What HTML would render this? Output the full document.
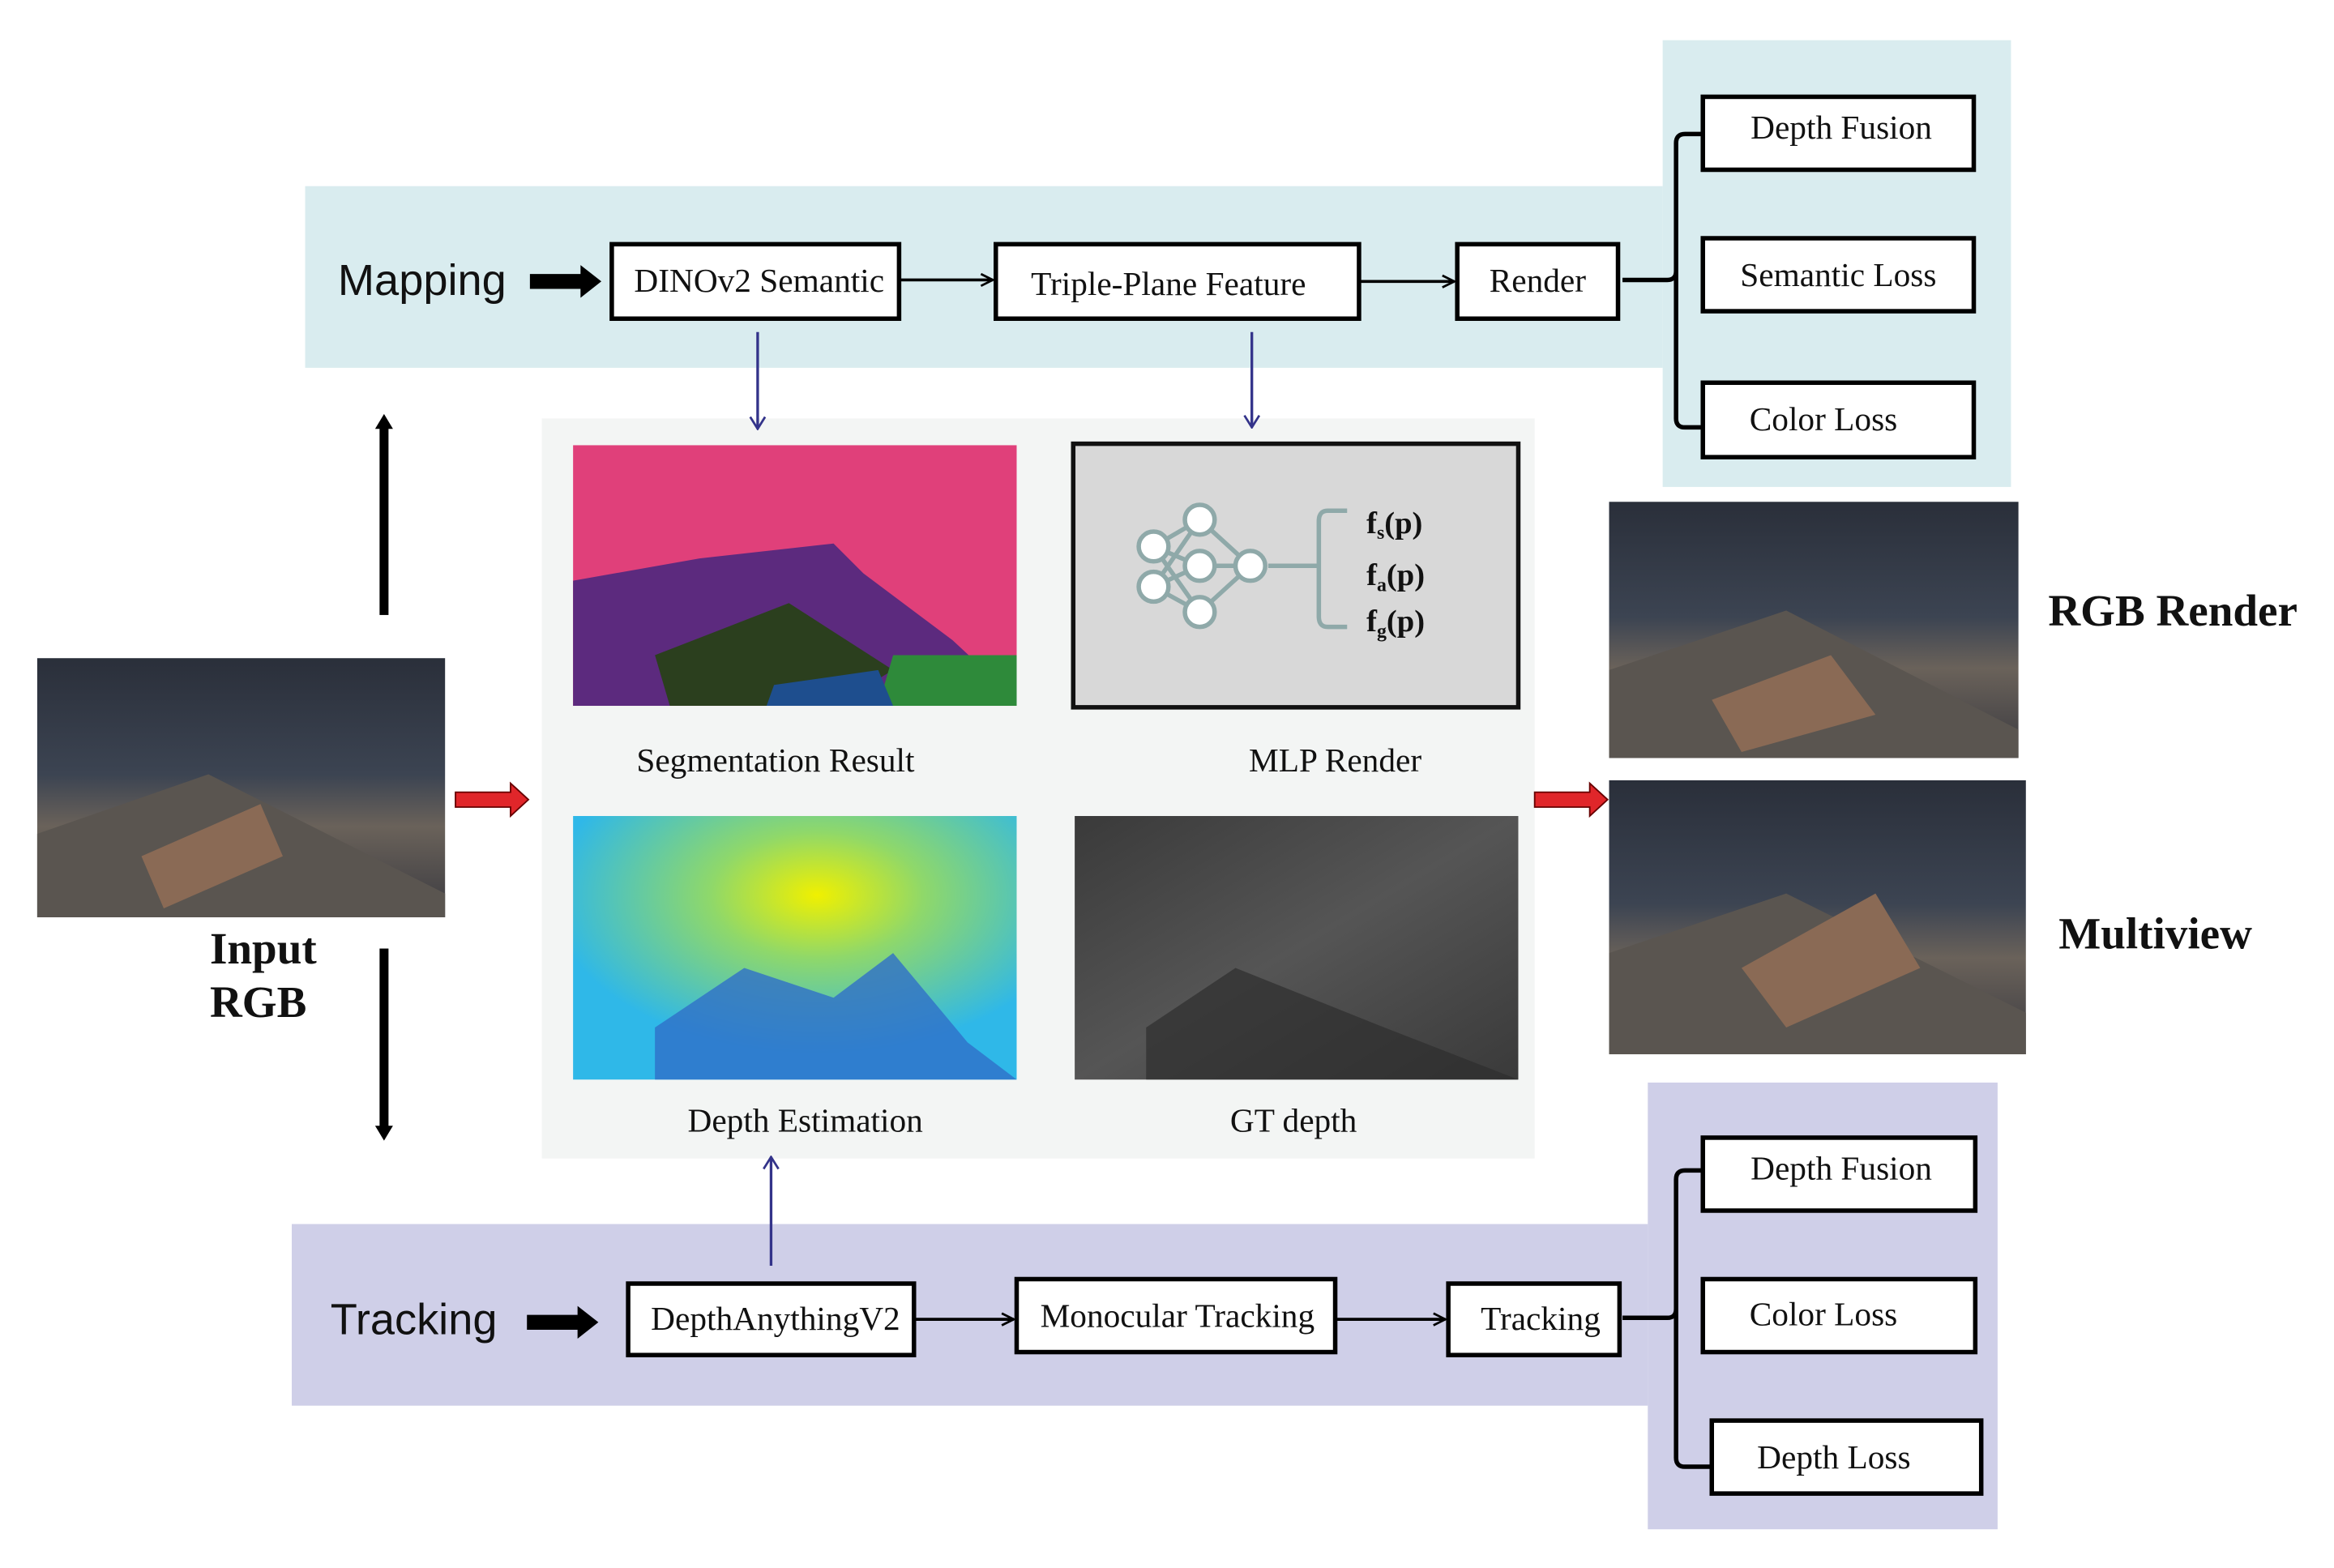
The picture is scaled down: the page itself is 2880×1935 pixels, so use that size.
<!DOCTYPE html>
<html><head><meta charset="utf-8"><style>html,body{margin:0;padding:0;background:#fff}svg{display:block}</style></head><body>
<svg width="2880" height="1935" viewBox="0 0 1568 1053" preserveAspectRatio="none" xmlns="http://www.w3.org/2000/svg" font-family="Liberation Serif, serif">
<defs>
<marker id="ah" markerWidth="10" markerHeight="10" refX="9" refY="5" orient="auto" markerUnits="userSpaceOnUse"><path d="M1,1 L9,5 L1,9" fill="none" stroke="#000" stroke-width="1.5"/></marker>
<marker id="bh" markerWidth="12" markerHeight="12" refX="11" refY="6" orient="auto" markerUnits="userSpaceOnUse"><path d="M3,1 L11,6 L3,11" fill="none" stroke="#33338a" stroke-width="1.5"/></marker>
<linearGradient id="scene" x1="0" y1="0" x2="0" y2="1"><stop offset="0" stop-color="#2a2f3a"/><stop offset="0.45" stop-color="#3c4452"/><stop offset="0.65" stop-color="#6a625a"/><stop offset="1" stop-color="#3a3a40"/></linearGradient>
<linearGradient id="gt" x1="0" y1="0" x2="1" y2="1"><stop offset="0" stop-color="#3a3a3a"/><stop offset="0.5" stop-color="#555"/><stop offset="1" stop-color="#3a3a3a"/></linearGradient>
<radialGradient id="de" cx="0.55" cy="0.3" r="0.6"><stop offset="0" stop-color="#f0f000"/><stop offset="0.4" stop-color="#8fd86a"/><stop offset="1" stop-color="#2fb8e8"/></radialGradient>
</defs>
<rect x="205" y="125" width="912" height="122" fill="#d9ecef"/>
<rect x="1117" y="27" width="234" height="300" fill="#d9ecef"/>
<rect x="196" y="822" width="911" height="122" fill="#cfcfe8"/>
<rect x="1107" y="727" width="235" height="300" fill="#cfcfe8"/>
<rect x="364" y="281" width="667" height="497" fill="#f3f5f4"/>
<text x="227" y="198" font-family="Liberation Sans, sans-serif" font-size="29.5" fill="#111">Mapping</text>
<polygon points="356,184 390,184 390,178 404,189 390,200 390,194 356,194" fill="#000"/>
<g fill="#fff" stroke="#000" stroke-width="3">
<rect x="411" y="164" width="193" height="50"/><rect x="669" y="164" width="244" height="50"/><rect x="979" y="164" width="108" height="50"/>
<rect x="1144" y="65" width="182" height="49"/><rect x="1144" y="160" width="182" height="49"/><rect x="1144" y="257" width="182" height="50"/>
<rect x="422" y="862" width="192" height="48"/><rect x="683" y="859" width="214" height="49"/><rect x="973" y="862" width="115" height="48"/>
<rect x="1144" y="764" width="183" height="49"/><rect x="1144" y="859" width="183" height="49"/><rect x="1150" y="954" width="181" height="49"/>
</g>
<g font-size="22.5" fill="#111" text-anchor="middle">
<text x="510" y="196">DINOv2 Semantic</text><text x="785" y="198">Triple-Plane Feature</text><text x="1033" y="196">Render</text>
<text x="1237" y="93">Depth Fusion</text><text x="1235" y="192">Semantic Loss</text><text x="1225" y="289">Color Loss</text>
<text x="521" y="893">DepthAnythingV2</text><text x="791" y="891">Monocular Tracking</text><text x="1035" y="893">Tracking</text>
<text x="1237" y="792">Depth Fusion</text><text x="1225" y="890">Color Loss</text><text x="1232" y="986">Depth Loss</text>
</g>
<g stroke="#000" stroke-width="2" fill="none">
<line x1="604" y1="188" x2="667" y2="188" marker-end="url(#ah)"/>
<line x1="913" y1="189" x2="977" y2="189" marker-end="url(#ah)"/>
<line x1="614" y1="886" x2="681" y2="886" marker-end="url(#ah)"/>
<line x1="897" y1="886" x2="971" y2="886" marker-end="url(#ah)"/>
</g>
<g stroke="#000" stroke-width="3" fill="none">
<path d="M1090,188 L1120,188 Q1126,188 1126,182 L1126,96 Q1126,90 1132,90 L1144,90 M1126,182 L1126,281 Q1126,287 1132,287 L1144,287"/>
<path d="M1090,885 L1120,885 Q1126,885 1126,879 L1126,792 Q1126,786 1132,786 L1144,786 M1126,879 L1126,979 Q1126,985 1132,985 L1150,985"/>
</g>
<text x="222" y="896" font-family="Liberation Sans, sans-serif" font-size="29.5" fill="#111">Tracking</text>
<polygon points="354,883 388,883 388,877 402,888 388,899 388,893 354,893" fill="#000"/>
<g stroke="#33338a" stroke-width="1.8" fill="none">
<line x1="509" y1="223" x2="509" y2="288" marker-end="url(#bh)"/>
<line x1="841" y1="223" x2="841" y2="287" marker-end="url(#bh)"/>
<line x1="518" y1="850" x2="518" y2="777" marker-end="url(#bh)"/>
</g>
<rect x="255" y="287" width="6" height="126" fill="#000"/><polygon points="252,288 258,278 264,288" fill="#000"/>
<rect x="255" y="637" width="6" height="121" fill="#000"/><polygon points="252,756 258,766 264,756" fill="#000"/>
<polygon points="306,532 343,532 343,526 355,537 343,548 343,542 306,542" fill="#e0262a" stroke="#600" stroke-width="1"/>
<polygon points="1031,532 1068,532 1068,526 1080,537 1068,548 1068,542 1031,542" fill="#e0262a" stroke="#600" stroke-width="1"/>
<rect x="25" y="442" width="274" height="174" fill="url(#scene)"/>
<polygon points="25,560 140,520 299,600 299,616 25,616" fill="#5a5550"/>
<polygon points="95,575 175,540 190,575 110,610" fill="#8a6a55"/>
<rect x="1081" y="337" width="275" height="172" fill="url(#scene)"/>
<polygon points="1081,450 1200,410 1356,490 1356,509 1081,509" fill="#5a5550"/>
<polygon points="1150,470 1230,440 1260,480 1170,505" fill="#8a6a55"/>
<rect x="1081" y="524" width="280" height="184" fill="url(#scene)"/>
<polygon points="1081,640 1200,600 1361,680 1361,708 1081,708" fill="#5a5550"/>
<polygon points="1170,650 1260,600 1290,650 1200,690" fill="#8a6a55"/>
<rect x="385" y="299" width="298" height="175" fill="#e0407a"/>
<polygon points="385,390 470,375 560,365 580,385 640,430 683,470 683,474 385,474" fill="#5c2a7e"/>
<polygon points="440,440 530,405 600,450 560,474 450,474" fill="#2b3f1e"/>
<polygon points="600,440 683,440 683,474 590,474" fill="#2e8a3a"/>
<polygon points="520,460 590,450 600,474 515,474" fill="#1e4e8e"/>
<rect x="385" y="548" width="298" height="177" fill="url(#de)"/>
<polygon points="440,690 500,650 560,670 600,640 650,700 683,725 440,725" fill="#2f6fc8" opacity="0.8"/>
<rect x="722" y="548" width="298" height="177" fill="url(#gt)"/>
<polygon points="770,690 830,650 930,690 1020,725 770,725" fill="#2e2e2e" opacity="0.7"/>
<rect x="721" y="298" width="299" height="177" fill="#d8d8d8" stroke="#111" stroke-width="3"/>
<g stroke="#8fa9a9" stroke-width="3" fill="#fff">
<line x1="775" y1="367" x2="806" y2="349"/><line x1="775" y1="367" x2="806" y2="380"/><line x1="775" y1="367" x2="806" y2="411"/>
<line x1="775" y1="394" x2="806" y2="349"/><line x1="775" y1="394" x2="806" y2="380"/><line x1="775" y1="394" x2="806" y2="411"/>
<line x1="806" y1="349" x2="840" y2="380"/><line x1="806" y1="380" x2="840" y2="380"/><line x1="806" y1="411" x2="840" y2="380"/>
<path d="M852,380 L886,380 M905,343 L892,343 Q886,343 886,350 L886,414 Q886,421 892,421 L905,421" fill="none"/>
<circle cx="775" cy="367" r="10"/><circle cx="775" cy="394" r="10"/><circle cx="806" cy="349" r="10"/><circle cx="806" cy="380" r="10"/><circle cx="806" cy="411" r="10"/><circle cx="840" cy="380" r="10"/>
</g>
<g font-size="21" font-weight="bold" fill="#111">
<text x="918" y="358">f<tspan font-size="13" dy="4">s</tspan><tspan dy="-4">(p)</tspan></text>
<text x="918" y="393">f<tspan font-size="13" dy="4">a</tspan><tspan dy="-4">(p)</tspan></text>
<text x="918" y="424">f<tspan font-size="13" dy="4">g</tspan><tspan dy="-4">(p)</tspan></text>
</g>
<g font-size="22.5" fill="#111" text-anchor="middle">
<text x="521" y="518">Segmentation Result</text><text x="897" y="518">MLP Render</text>
<text x="541" y="760">Depth Estimation</text><text x="869" y="760">GT depth</text>
</g>
<g font-size="30" font-weight="bold" fill="#111">
<text x="141" y="647">Input</text><text x="141" y="683">RGB</text>
<text x="1376" y="420">RGB Render</text><text x="1383" y="637">Multiview</text>
</g>
</svg>
</body></html>
